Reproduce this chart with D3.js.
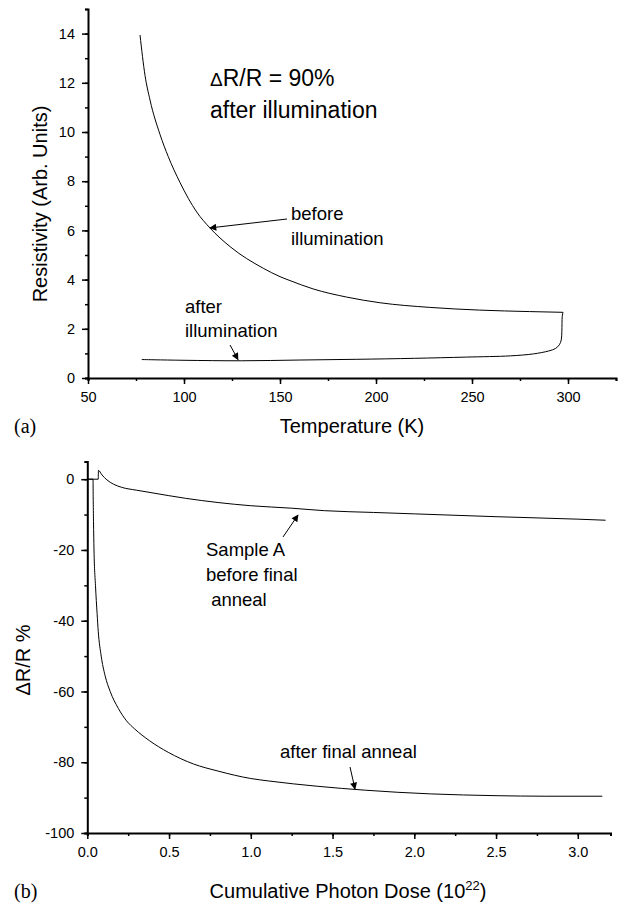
<!DOCTYPE html>
<html>
<head>
<meta charset="utf-8">
<script src="https://cdn.jsdelivr.net/npm/d3@7"></script>
<style>
  body { margin: 0; background: #fff; }
  svg { display: block; }
  .axisText { font-family: "Liberation Sans", Arial, sans-serif; font-size: 20px; }
  .note { font-family: "Liberation Sans", Arial, sans-serif; font-size: 18.5px; }
  .panel { font-family: "Liberation Serif", "Times New Roman", serif; font-size: 20px; }
</style>
</head>
<body>
<div id="chart"></div>
<script>
// Panel (a): resistivity vs temperature
var tempBefore = [77.1, 79.7, 82.3, 87.5, 91.8, 97.9, 106.6, 113.5, 124, 141.3, 150, 155.2, 167.3, 184.7, 202, 228, 254, 280, 297.4];
var resBefore  = [13.94, 12.3, 11.3, 9.9, 9.0, 7.95, 6.75, 6.1, 5.34, 4.46, 4.12, 3.96, 3.62, 3.29, 3.06, 2.87, 2.76, 2.70, 2.67];

var tempAfter = [297.4, 297.0, 296.8, 296.5, 295.5, 293.5, 290, 282, 270, 247, 220, 190, 160, 130, 100, 78];
var resAfter  = [2.67, 2.5, 1.9, 1.55, 1.35, 1.2, 1.1, 0.98, 0.9, 0.85, 0.8, 0.76, 0.73, 0.70, 0.72, 0.75];

// Panel (b): dR/R vs cumulative photon dose
var doseA = [0, 0.067, 0.068, 0.09, 0.12, 0.16, 0.21, 0.3, 0.39, 0.6, 0.8, 1.0, 1.25, 1.45, 1.75, 2.0, 2.5, 3.0, 3.17];
var drA   = [0, 0, 2.5, 1.2, -0.2, -1.4, -2.3, -3.1, -3.8, -5.4, -6.6, -7.5, -8.2, -8.9, -9.4, -9.8, -10.6, -11.3, -11.6];

var doseAnneal = [0, 0.035, 0.036, 0.038, 0.041, 0.05, 0.06, 0.067, 0.085, 0.108, 0.14, 0.19, 0.24, 0.29, 0.38, 0.495, 0.65, 0.8, 1.0, 1.11, 1.41, 1.7, 1.9, 2.1, 2.3, 2.5, 2.8, 3.15];
var drAnneal   = [0, 0, -5, -12, -20, -30, -38, -43, -50, -55.4, -60, -64.8, -68.3, -70.6, -73.9, -77.2, -80.5, -82.5, -84.6, -85.3, -86.8, -87.9, -88.5, -88.95, -89.25, -89.45, -89.6, -89.6];

var tempTicks = [50, 100, 150, 200, 250, 300];
var resTicks = [0, 2, 4, 6, 8, 10, 12, 14];
var doseTicks = [0, 0.5, 1.0, 1.5, 2.0, 2.5, 3.0];
var drTicks = [0, -20, -40, -60, -80, -100];

var svgWidth = 621;
var svgHeight = 903;

var svg = d3.select("#chart")
  .append("svg")
  .attr("width", svgWidth)
  .attr("height", svgHeight);

svg.append("defs").append("marker")
  .attr("id", "arrow")
  .attr("viewBox", "0 0 10 10")
  .attr("refX", 9)
  .attr("refY", 5)
  .attr("markerWidth", 10)
  .attr("markerHeight", 7)
  .attr("markerUnits", "userSpaceOnUse")
  .attr("orient", "auto")
  .append("path")
  .attr("d", "M0,0 L10,5 L0,10 Z")
  .attr("fill", "#000");

function zip(xs, ys) {
  return xs.map(function(x, i) { return [x, ys[i]]; });
}

function drawAxes(x, y, xMajor, xMinor, yMajor, yMinor, xFmt, yBase, xBase) {
  var xAxis = svg.append("g")
    .attr("transform", "translate(0," + yBase + ")");
  xAxis.call(d3.axisBottom(x).tickValues(xMinor).tickSize(3).tickFormat(""));
  xAxis.append("g").call(d3.axisBottom(x).tickValues(xMajor).tickSize(6).tickPadding(8).tickFormat(xFmt));

  var yAxis = svg.append("g")
    .attr("transform", "translate(" + xBase + ",0)");
  yAxis.call(d3.axisLeft(y).tickValues(yMinor).tickSize(3).tickFormat(""));
  yAxis.append("g").call(d3.axisLeft(y).tickValues(yMajor).tickSize(6).tickPadding(7)
    .tickFormat(function(d) { return String(d); }));

  [xAxis, yAxis].forEach(function(ax) {
    ax.select(".domain").attr("stroke-width", 2);
    ax.selectAll("g > g > .domain").remove();
    ax.selectAll(".tick line").attr("stroke-width", 1.5);
    ax.selectAll(".tick text")
      .attr("fill", "#000")
      .style("font-family", "'Liberation Sans', Arial, sans-serif")
      .style("font-size", "14.5px");
  });
}

// ---------- Panel (a) ----------
var xA = d3.scaleLinear().domain([50, 325]).range([88, 616]);
var yA = d3.scaleLinear().domain([0, 15]).range([378, 9]);

drawAxes(xA, yA, tempTicks, d3.range(50, 326, 25), resTicks, d3.range(0, 16, 1),
  d3.format("d"), 378, 88);

var lineBefore = d3.line().curve(d3.curveMonotoneX)
  .x(function(d) { return xA(d[0]); }).y(function(d) { return yA(d[1]); });
var lineAfter = d3.line().curve(d3.curveCatmullRom)
  .x(function(d) { return xA(d[0]); }).y(function(d) { return yA(d[1]); });

svg.append("path")
  .datum(zip(tempBefore, resBefore))
  .attr("d", lineBefore)
  .attr("fill", "none").attr("stroke", "#000").attr("stroke-width", 1);

svg.append("path")
  .datum(zip(tempAfter, resAfter))
  .attr("d", lineAfter)
  .attr("fill", "none").attr("stroke", "#000").attr("stroke-width", 1);

var title1 = svg.append("text").attr("class", "note").attr("x", 210).attr("y", 86)
  .style("font-size", "23px");
title1.append("tspan").style("font-size", "19px").text("\u0394");
title1.append("tspan").text("R/R = 90%");
svg.append("text").attr("class", "note").attr("x", 210).attr("y", 118)
  .style("font-size", "23px").text("after illumination");

svg.append("text").attr("class", "note").attr("x", 291).attr("y", 220).text("before");
svg.append("text").attr("class", "note").attr("x", 291).attr("y", 245).text("illumination");
svg.append("line")
  .attr("x1", 287).attr("y1", 219).attr("x2", xA(113.5)).attr("y2", yA(6.1))
  .attr("stroke", "#000").attr("stroke-width", 1).attr("marker-end", "url(#arrow)");

svg.append("text").attr("class", "note").attr("x", 185).attr("y", 313).text("after");
svg.append("text").attr("class", "note").attr("x", 185).attr("y", 337).text("illumination");
svg.append("line")
  .attr("x1", 230).attr("y1", 345).attr("x2", 238).attr("y2", yA(0.71) - 1)
  .attr("stroke", "#000").attr("stroke-width", 1).attr("marker-end", "url(#arrow)");

svg.append("text").attr("class", "axisText")
  .attr("transform", "rotate(-90)")
  .attr("x", -204).attr("y", 47)
  .attr("text-anchor", "middle")
  .text("Resistivity (Arb. Units)");

svg.append("text").attr("class", "axisText")
  .attr("x", 352).attr("y", 433)
  .attr("text-anchor", "middle")
  .text("Temperature (K)");

svg.append("text").attr("class", "panel").attr("x", 14).attr("y", 433).text("(a)");

// ---------- Panel (b) ----------
var xB = d3.scaleLinear().domain([0, 3.2]).range([87.3, 610.5]);
var yB = d3.scaleLinear().domain([-100, 5]).range([833, 461.5]);

drawAxes(xB, yB, doseTicks, d3.range(0, 3.21, 0.25), drTicks, d3.range(-100, 1, 10),
  d3.format(".1f"), 833, 87.3);

var lineB = d3.line().curve(d3.curveMonotoneX)
  .x(function(d) { return xB(d[0]); }).y(function(d) { return yB(d[1]); });

svg.append("path")
  .datum(zip(doseA, drA))
  .attr("d", lineB)
  .attr("fill", "none").attr("stroke", "#000").attr("stroke-width", 1);

svg.append("path")
  .datum(zip(doseAnneal, drAnneal))
  .attr("d", lineB)
  .attr("fill", "none").attr("stroke", "#000").attr("stroke-width", 1);

svg.append("text").attr("class", "note").attr("x", 206).attr("y", 556).text("Sample A");
svg.append("text").attr("class", "note").attr("x", 206).attr("y", 581).text("before final");
svg.append("text").attr("class", "note").attr("x", 206).attr("y", 606).text("\u00a0anneal");
svg.append("line")
  .attr("x1", 283).attr("y1", 537).attr("x2", 298).attr("y2", 515)
  .attr("stroke", "#000").attr("stroke-width", 1).attr("marker-end", "url(#arrow)");

svg.append("text").attr("class", "note").attr("x", 280).attr("y", 758).text("after final anneal");
svg.append("line")
  .attr("x1", 350).attr("y1", 767).attr("x2", 355).attr("y2", 789)
  .attr("stroke", "#000").attr("stroke-width", 1).attr("marker-end", "url(#arrow)");

svg.append("text").attr("class", "axisText")
  .attr("transform", "rotate(-90)")
  .attr("x", -660).attr("y", 30)
  .attr("text-anchor", "middle")
  .text("\u0394R/R %");

var xLabel = svg.append("text").attr("class", "axisText")
  .attr("x", 348).attr("y", 898)
  .attr("text-anchor", "middle");
xLabel.append("tspan").text("Cumulative Photon Dose (10");
xLabel.append("tspan").attr("dy", -8).style("font-size", "13px").text("22");
xLabel.append("tspan").attr("dy", 8).text(")");

svg.append("text").attr("class", "panel").attr("x", 14).attr("y", 898).text("(b)");
</script>
</body>
</html>
